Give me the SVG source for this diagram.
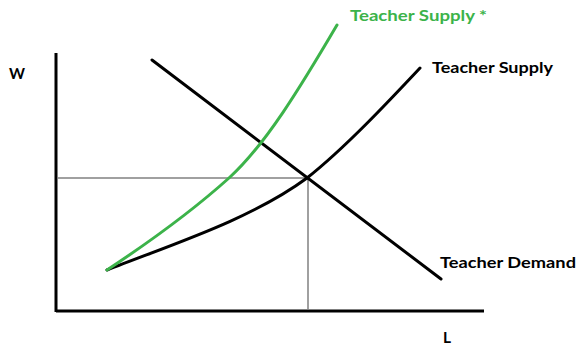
<svg xmlns="http://www.w3.org/2000/svg" width="578" height="347" viewBox="0 0 578 347">
<style>
.lbl{font-family:Lato,"Open Sans","Liberation Sans",sans-serif;font-weight:bold;font-size:15px;fill:#000}
.green{fill:#3cb34a}
.axis{stroke:#000;stroke-width:3;fill:none}
.guide{stroke:#808080;stroke-width:1.5;fill:none}
.curve{stroke:#000;stroke-width:3;fill:none;stroke-linecap:round}
.gcurve{stroke:#3cb34a;stroke-width:3;fill:none;stroke-linecap:round}
</style>
<rect width="578" height="347" fill="#fff"/>
<g id="axes">
<line class="axis" x1="56" y1="53" x2="56" y2="312"/>
<line class="axis" x1="56" y1="311" x2="484" y2="311"/>
<text class="lbl" x="9" y="79" textLength="16" lengthAdjust="spacingAndGlyphs">W</text>
<text class="lbl" x="443" y="343" textLength="8" lengthAdjust="spacingAndGlyphs">L</text>
</g>
<g id="connectors">
<line class="guide" x1="58" y1="178" x2="307" y2="178"/>
<line class="guide" x1="308" y1="178" x2="308" y2="310"/>
</g>
<g id="demand">
<line class="curve" x1="152" y1="60" x2="441" y2="279"/>
<text class="lbl" x="440" y="268" textLength="136" lengthAdjust="spacingAndGlyphs">Teacher Demand</text>
</g>
<g id="supply">
<path class="curve" d="M107,270 C170,245 250,220 307,178 C345,148 390,100 420,68"/>
<text class="lbl" x="432" y="73" textLength="121" lengthAdjust="spacingAndGlyphs">Teacher Supply</text>
</g>
<g id="supply-star">
<path class="gcurve" d="M107,270 C147,243.6 189,214 229,178 C265,145.6 301,86.2 337,25"/>
<text class="lbl green" x="350" y="21" textLength="137" lengthAdjust="spacingAndGlyphs">Teacher Supply *</text>
</g>
</svg>
